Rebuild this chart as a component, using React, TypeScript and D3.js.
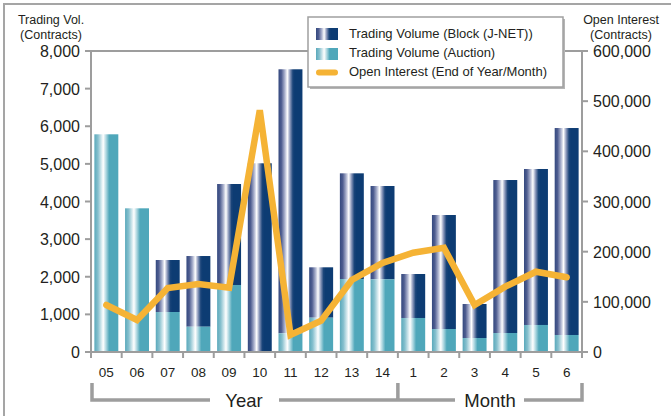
import React from "react";
import * as d3 from "d3";

const categories = ["05", "06", "07", "08", "09", "10", "11", "12", "13", "14", "1", "2", "3", "4", "5", "6"];
const auctionVolume = [5786, 3819, 1063, 672, 1781, 0, 497, 912, 1940, 1930, 904, 611, 372, 505, 718, 452];
const totalVolume = [5786, 3819, 2445, 2551, 4465, 5016, 7514, 2251, 4749, 4412, 2073, 3641, 1276, 4571, 4864, 5953];
const openInterest = [93700, 63800, 127600, 135500, 128200, 482000, 33900, 62400, 143500, 177400, 198000, 207900, 93700, 130200, 160000, 148900];
const leftTicks = [0, 1000, 2000, 3000, 4000, 5000, 6000, 7000, 8000];
const rightTicks = [0, 100000, 200000, 300000, 400000, 500000, 600000];
const legendLabels = ["Trading Volume (Block (J-NET))", "Trading Volume (Auction)", "Open Interest (End of Year/Month)"];
const groupLabels = ["Year", "Month"];

const W = 671;
const H = 416;
const L = 91;
const R = 582;
const T = 51;
const B = 352;
const FONT = "'Liberation Sans', Arial, sans-serif";
const AXIS = "#9d9d9d";
const TXT = "#231f20";
const ORANGE = "#f5b335";

export default function App() {
  const x = d3.scaleBand<string>().domain(categories).range([L, R]).paddingInner(0.22).paddingOuter(0.11);
  const yL = d3.scaleLinear().domain([0, 8000]).range([B, T]);
  const yR = d3.scaleLinear().domain([0, 600000]).range([B, T]);
  const step = x.step();
  const bw = x.bandwidth();
  const boundaries = categories.map((c) => (x(c) as number) - (step - bw) / 2);
  boundaries.push(R);
  const fmt = d3.format(",");
  const cx = (c: string) => (x(c) as number) + bw / 2;
  const line = d3
    .line<number>()
    .x((_, i) => cx(categories[i]))
    .y((d) => yR(d))(openInterest) as string;

  const yearEnd = boundaries[10];
  const bracketTop = 383;
  const bracketY = 400;

  return (
    <svg width={W} height={H} style={{ position: "absolute", left: 0, top: 0, background: "#fff" }} fontFamily={FONT}>
      <defs>
        <linearGradient id="gBlock" x1="0" x2="1" y1="0" y2="0">
          <stop offset="0" stopColor="#34497f" />
          <stop offset="0.12" stopColor="#4e5d90" />
          <stop offset="0.26" stopColor="#aab1cd" />
          <stop offset="0.37" stopColor="#ffffff" />
          <stop offset="0.48" stopColor="#8e9abc" />
          <stop offset="0.6" stopColor="#1a4479" />
          <stop offset="0.68" stopColor="#0d3c73" />
          <stop offset="1" stopColor="#0d3c73" />
        </linearGradient>
        <linearGradient id="gAuction" x1="0" x2="1" y1="0" y2="0">
          <stop offset="0" stopColor="#5aa9bb" />
          <stop offset="0.15" stopColor="#86c0ce" />
          <stop offset="0.37" stopColor="#ffffff" />
          <stop offset="0.5" stopColor="#a6d3dd" />
          <stop offset="0.62" stopColor="#4fa7ba" />
          <stop offset="1" stopColor="#4fa7ba" />
        </linearGradient>
      </defs>

      {/* outer frame */}
      <rect x={4} y={4} width={W + 20} height={H + 20} fill="none" stroke="#a5a5a5" strokeWidth={2} />

      {/* plot frame */}
      <line x1={L} x2={R} y1={T} y2={T} stroke={AXIS} strokeWidth={2} />
      <line x1={L} x2={L} y1={T} y2={B} stroke={AXIS} strokeWidth={2} />
      <line x1={R} x2={R} y1={T} y2={B} stroke={AXIS} strokeWidth={2} />

      {/* bars */}
      {categories.map((c, i) => (
        <g key={c + i}>
          {totalVolume[i] > auctionVolume[i] && (
            <rect x={x(c)} y={yL(totalVolume[i])} width={bw} height={yL(auctionVolume[i]) - yL(totalVolume[i])} fill="url(#gBlock)" />
          )}
          {auctionVolume[i] > 0 && (
            <rect x={x(c)} y={yL(auctionVolume[i])} width={bw} height={B - yL(auctionVolume[i])} fill="url(#gAuction)" />
          )}
        </g>
      ))}

      {/* bottom axis */}
      <line x1={L - 1} x2={R + 1} y1={B} y2={B} stroke={AXIS} strokeWidth={2} />
      {boundaries.map((b, i) => (
        <line key={"bt" + i} x1={b} x2={b} y1={B} y2={B + 6} stroke={AXIS} strokeWidth={2} />
      ))}
      {categories.map((c, i) => (
        <text key={"xl" + i} x={cx(c)} y={377} textAnchor="middle" fontSize={13.5} fill={TXT}>
          {c}
        </text>
      ))}

      {/* left axis ticks */}
      {leftTicks.map((t) => (
        <g key={"lt" + t}>
          <line x1={L - 6} x2={L} y1={yL(t)} y2={yL(t)} stroke={AXIS} strokeWidth={2} />
          <text x={80} y={yL(t) + 6} textAnchor="end" fontSize={16} fill={TXT}>
            {fmt(t)}
          </text>
        </g>
      ))}
      {/* right axis ticks */}
      {rightTicks.map((t) => (
        <g key={"rt" + t}>
          <line x1={R} x2={R + 6} y1={yR(t)} y2={yR(t)} stroke={AXIS} strokeWidth={2} />
          <text x={593} y={yR(t) + 6} textAnchor="start" fontSize={16} fill={TXT}>
            {fmt(t)}
          </text>
        </g>
      ))}

      {/* axis titles */}
      <text x={51} y={24} textAnchor="middle" fontSize={12.5} fill={TXT}>Trading Vol.</text>
      <text x={51} y={38.5} textAnchor="middle" fontSize={12.5} fill={TXT}>(Contracts)</text>
      <text x={621} y={24} textAnchor="middle" fontSize={12.5} fill={TXT}>Open Interest</text>
      <text x={621} y={38.5} textAnchor="middle" fontSize={12.5} fill={TXT}>(Contracts)</text>

      {/* open interest line */}
      <path d={line} fill="none" stroke={ORANGE} strokeWidth={6.5} strokeLinejoin="miter" strokeLinecap="round" />

      {/* group brackets */}
      <path
        d={`M${L + 1},${bracketTop} V${bracketY} H210 M279,${bracketY} H${yearEnd} V${bracketTop} M${yearEnd},${bracketY} H455 M524,${bracketY} H${R} V${bracketTop}`}
        fill="none"
        stroke={AXIS}
        strokeWidth={3.5}
      />
      <text x={244} y={407} textAnchor="middle" fontSize={18.5} fill={TXT}>{groupLabels[0]}</text>
      <text x={490} y={407} textAnchor="middle" fontSize={18.5} fill={TXT}>{groupLabels[1]}</text>

      {/* legend */}
      <rect x={310} y={19} width={255} height={70} fill="#b5b5b5" />
      <rect x={308} y={17} width={255} height={70} fill="#fff" stroke="#a0a0a0" strokeWidth={1.5} />
      <rect x={316} y={28} width={22} height={12} fill="url(#gBlock)" />
      <rect x={316} y={48} width={22} height={12} fill="url(#gAuction)" />
      <line x1={319} x2={335} y1={72.5} y2={72.5} stroke={ORANGE} strokeWidth={6} strokeLinecap="round" />
      {legendLabels.map((l, i) => (
        <text key={l} x={349} y={38 + i * 19} fontSize={13} fill={TXT}>
          {l}
        </text>
      ))}
    </svg>
  );
}
